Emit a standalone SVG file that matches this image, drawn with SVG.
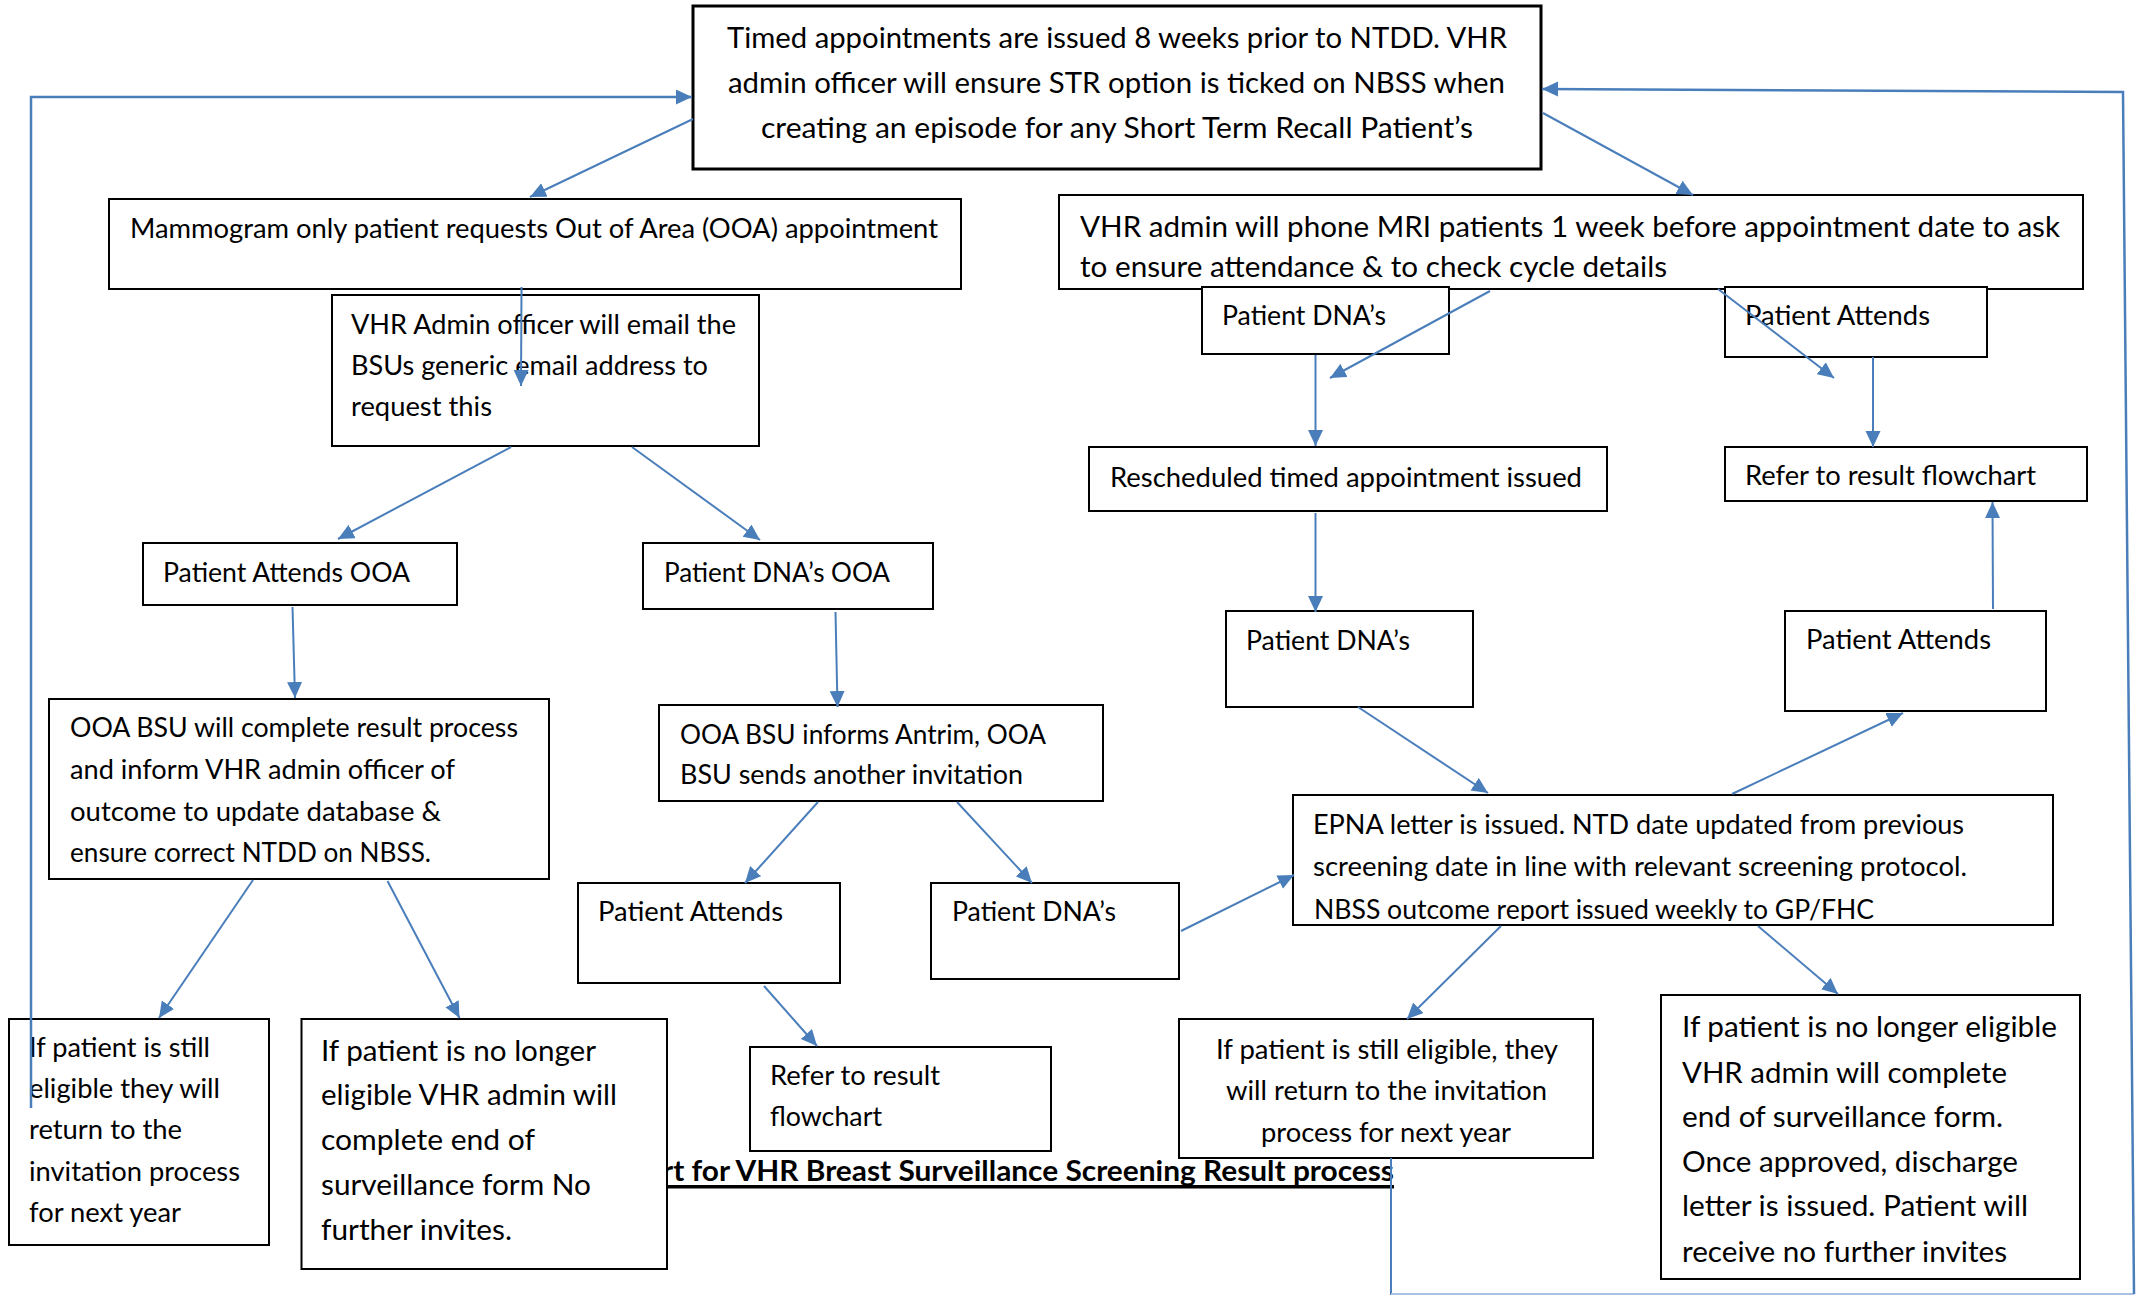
<svg xmlns="http://www.w3.org/2000/svg" width="2145" height="1295" viewBox="0 0 2145 1295">
<style>
.box{fill:#fff;stroke:#000;stroke-width:2}
.t{font-family:Lato,"Liberation Sans",sans-serif;font-size:27px;fill:#000}
.tl{font-family:Lato,"Liberation Sans",sans-serif;font-size:29.5px;fill:#000}
.title{font-family:Lato,"Liberation Sans",sans-serif;font-size:28px;font-weight:bold;fill:#000}
.c{fill:none;stroke:#4A7EBB;stroke-width:2.5}
.ca{fill:none;stroke:#4A7EBB;stroke-width:2;marker-end:url(#ah)}
</style>
<defs>
<marker id="ah" markerUnits="userSpaceOnUse" markerWidth="18" markerHeight="16" refX="16" refY="7.5" orient="auto">
<path d="M0,0 L16,7.5 L0,15 z" fill="#4A7EBB"/>
</marker>
<clipPath id="epnaClip"><rect x="1293" y="795" width="760" height="126"/></clipPath>
</defs>
<rect width="2145" height="1295" fill="#fff"/>

<g id="title">
<text class="title" x="1394" y="1181" text-anchor="end" textLength="732" lengthAdjust="spacingAndGlyphs">rt for VHR Breast Surveillance Screening Result process</text>
<rect x="662" y="1185" width="732" height="3.5" fill="#000"/>
</g>

<g id="n-top">
<rect class="box" style="stroke-width:3" x="693" y="6" width="848" height="163"/>
<text class="tl" x="727" y="48" textLength="780" lengthAdjust="spacingAndGlyphs">Timed appointments are issued 8 weeks prior to NTDD. VHR</text>
<text class="tl" x="728" y="93" textLength="777" lengthAdjust="spacingAndGlyphs">admin officer will ensure STR option is ticked on NBSS when</text>
<text class="tl" x="761" y="138" textLength="712" lengthAdjust="spacingAndGlyphs">creating an episode for any Short Term Recall Patient’s</text>
</g>

<g id="n-mammo">
<rect class="box" x="109" y="199" width="852" height="90"/>
<text class="t" x="130" y="238" textLength="808" lengthAdjust="spacingAndGlyphs">Mammogram only patient requests Out of Area (OOA) appointment</text>
</g>

<g id="n-email">
<rect class="box" x="332" y="295" width="427" height="151"/>
<text class="t" x="351" y="334" textLength="385" lengthAdjust="spacingAndGlyphs">VHR Admin officer will email the</text>
<text class="t" x="351" y="375" textLength="357" lengthAdjust="spacingAndGlyphs">BSUs generic email address to</text>
<text class="t" x="351" y="416" textLength="141" lengthAdjust="spacingAndGlyphs">request this</text>
</g>

<g id="n-mri">
<rect class="box" x="1059" y="195" width="1024" height="94"/>
<text class="tl" x="1080" y="237" textLength="980" lengthAdjust="spacingAndGlyphs">VHR admin will phone MRI patients 1 week before appointment date to ask</text>
<text class="tl" x="1080" y="277" textLength="587" lengthAdjust="spacingAndGlyphs">to ensure attendance &amp; to check cycle details</text>
</g>

<g id="n-dna1">
<rect class="box" x="1202" y="287" width="247" height="67"/>
<text class="t" x="1222" y="325" textLength="164" lengthAdjust="spacingAndGlyphs">Patient DNA’s</text>
</g>

<g id="n-att1">
<rect class="box" x="1725" y="287" width="262" height="70"/>
<text class="t" x="1745" y="325" textLength="185" lengthAdjust="spacingAndGlyphs">Patient Attends</text>
</g>

<g id="n-resched">
<rect class="box" x="1089" y="447" width="518" height="64"/>
<text class="t" x="1110" y="487" textLength="472" lengthAdjust="spacingAndGlyphs">Rescheduled timed appointment issued</text>
</g>

<g id="n-refer1">
<rect class="box" x="1725" y="447" width="362" height="54"/>
<text class="t" x="1745" y="485" textLength="291" lengthAdjust="spacingAndGlyphs">Refer to result flowchart</text>
</g>

<g id="n-dna2">
<rect class="box" x="1226" y="611" width="247" height="96"/>
<text class="t" x="1246" y="650" textLength="164" lengthAdjust="spacingAndGlyphs">Patient DNA’s</text>
</g>

<g id="n-att2">
<rect class="box" x="1785" y="611" width="261" height="100"/>
<text class="t" x="1806" y="649" textLength="185" lengthAdjust="spacingAndGlyphs">Patient Attends</text>
</g>

<g id="n-epna">
<rect class="box" x="1293" y="795" width="760" height="130"/>
<g clip-path="url(#epnaClip)">
<text class="t" x="1313" y="834" textLength="651" lengthAdjust="spacingAndGlyphs">EPNA letter is issued. NTD date updated from previous</text>
<text class="t" x="1313" y="876" textLength="654" lengthAdjust="spacingAndGlyphs">screening date in line with relevant screening protocol.</text>
<text class="t" x="1314" y="919" textLength="560" lengthAdjust="spacingAndGlyphs">NBSS outcome report issued weekly to GP/FHC</text>
</g>
</g>

<g id="n-attooa">
<rect class="box" x="143" y="543" width="314" height="62"/>
<text class="t" x="163" y="582" textLength="247" lengthAdjust="spacingAndGlyphs">Patient Attends OOA</text>
</g>

<g id="n-dnaooa">
<rect class="box" x="643" y="543" width="290" height="66"/>
<text class="t" x="664" y="582" textLength="226" lengthAdjust="spacingAndGlyphs">Patient DNA’s OOA</text>
</g>

<g id="n-ooacomplete">
<rect class="box" x="49" y="699" width="500" height="180"/>
<text class="t" x="70" y="737" textLength="448" lengthAdjust="spacingAndGlyphs">OOA BSU will complete result process</text>
<text class="t" x="70" y="779" textLength="385" lengthAdjust="spacingAndGlyphs">and inform VHR admin officer of</text>
<text class="t" x="70" y="821" textLength="371" lengthAdjust="spacingAndGlyphs">outcome to update database &amp;</text>
<text class="t" x="70" y="862" textLength="361" lengthAdjust="spacingAndGlyphs">ensure correct NTDD on NBSS.</text>
</g>

<g id="n-informs">
<rect class="box" x="659" y="705" width="444" height="96"/>
<text class="t" x="680" y="744" textLength="366" lengthAdjust="spacingAndGlyphs">OOA BSU informs Antrim, OOA</text>
<text class="t" x="680" y="784" textLength="343" lengthAdjust="spacingAndGlyphs">BSU sends another invitation</text>
</g>

<g id="n-att3">
<rect class="box" x="578" y="883" width="262" height="100"/>
<text class="t" x="598" y="921" textLength="185" lengthAdjust="spacingAndGlyphs">Patient Attends</text>
</g>

<g id="n-dna3">
<rect class="box" x="931" y="883" width="248" height="96"/>
<text class="t" x="952" y="921" textLength="164" lengthAdjust="spacingAndGlyphs">Patient DNA’s</text>
</g>

<g id="n-refer2">
<rect class="box" x="750" y="1047" width="301" height="104"/>
<text class="t" x="770" y="1085" textLength="170" lengthAdjust="spacingAndGlyphs">Refer to result</text>
<text class="t" x="770" y="1126" textLength="112" lengthAdjust="spacingAndGlyphs">flowchart</text>
</g>

<g id="n-still1">
<rect class="box" x="9" y="1019" width="260" height="226"/>
<text class="t" x="29" y="1057" textLength="181" lengthAdjust="spacingAndGlyphs">If patient is still</text>
<text class="t" x="29" y="1098" textLength="191" lengthAdjust="spacingAndGlyphs">eligible they will</text>
<text class="t" x="29" y="1139" textLength="153" lengthAdjust="spacingAndGlyphs">return to the</text>
<text class="t" x="29" y="1181" textLength="211" lengthAdjust="spacingAndGlyphs">invitation process</text>
<text class="t" x="29" y="1222" textLength="152" lengthAdjust="spacingAndGlyphs">for next year</text>
</g>

<g id="n-nolonger1">
<rect class="box" x="301.5" y="1019" width="365.5" height="250"/>
<text class="tl" x="321" y="1061" textLength="275" lengthAdjust="spacingAndGlyphs">If patient is no longer</text>
<text class="tl" x="321" y="1105" textLength="296" lengthAdjust="spacingAndGlyphs">eligible VHR admin will</text>
<text class="tl" x="321" y="1150" textLength="214" lengthAdjust="spacingAndGlyphs">complete end of</text>
<text class="tl" x="321" y="1195" textLength="270" lengthAdjust="spacingAndGlyphs">surveillance form No</text>
<text class="tl" x="321" y="1240" textLength="191" lengthAdjust="spacingAndGlyphs">further invites.</text>
</g>

<g id="n-still2">
<rect class="box" x="1179" y="1019" width="414" height="139"/>
<text class="t" x="1216" y="1059" textLength="342" lengthAdjust="spacingAndGlyphs">If patient is still eligible, they</text>
<text class="t" x="1226" y="1100" textLength="321" lengthAdjust="spacingAndGlyphs">will return to the invitation</text>
<text class="t" x="1261" y="1142" textLength="250" lengthAdjust="spacingAndGlyphs">process for next year</text>
</g>

<g id="n-nolonger2">
<rect class="box" x="1661" y="995" width="419" height="284"/>
<text class="tl" x="1682" y="1037" textLength="375" lengthAdjust="spacingAndGlyphs">If patient is no longer eligible</text>
<text class="tl" x="1682" y="1083" textLength="325" lengthAdjust="spacingAndGlyphs">VHR admin will complete</text>
<text class="tl" x="1682" y="1127" textLength="321" lengthAdjust="spacingAndGlyphs">end of surveillance form.</text>
<text class="tl" x="1682" y="1172" textLength="336" lengthAdjust="spacingAndGlyphs">Once approved, discharge</text>
<text class="tl" x="1682" y="1216" textLength="346" lengthAdjust="spacingAndGlyphs">letter is issued. Patient will</text>
<text class="tl" x="1682" y="1262" textLength="325" lengthAdjust="spacingAndGlyphs">receive no further invites</text>
</g>

<g id="connectors">
<line class="ca" x1="693" y1="119" x2="530" y2="197"/>
<line class="ca" x1="1543" y1="113" x2="1693" y2="195"/>
<polyline class="ca" style="stroke-width:2.5" points="31,1108 31,97 692,97"/>
<polyline class="c" style="stroke-width:2" points="1391,1158 1391,1295"/>
<line class="c" style="stroke:#A9C1E3;stroke-width:2" x1="1391" y1="1294" x2="2134" y2="1294"/>
<polyline class="ca" style="stroke-width:2.5" points="2134,1294 2123,92 1542,89"/>
<line class="ca" x1="521.5" y1="287" x2="521" y2="386"/>
<line class="ca" x1="511" y1="447" x2="338" y2="539"/>
<line class="ca" x1="632" y1="447" x2="760" y2="540"/>
<line class="ca" x1="292.5" y1="607" x2="295" y2="698"/>
<line class="ca" x1="835.5" y1="612" x2="837.5" y2="707"/>
<line class="ca" x1="253" y1="880" x2="159" y2="1018"/>
<line class="ca" x1="387.5" y1="881" x2="459.5" y2="1018"/>
<line class="ca" x1="818" y1="802" x2="745" y2="883"/>
<line class="ca" x1="957" y1="802" x2="1032" y2="883"/>
<line class="ca" x1="764" y1="986" x2="817" y2="1046"/>
<line class="ca" x1="1181" y1="931" x2="1294" y2="875"/>
<line class="ca" x1="1490" y1="291" x2="1330" y2="378"/>
<line class="ca" x1="1718" y1="289" x2="1834" y2="378"/>
<line class="ca" x1="1315.5" y1="355" x2="1315.5" y2="446"/>
<line class="ca" x1="1873" y1="357" x2="1873" y2="447"/>
<line class="ca" x1="1315.5" y1="513" x2="1315.5" y2="612"/>
<line class="ca" x1="1993" y1="609" x2="1992.5" y2="502"/>
<line class="ca" x1="1358" y1="707" x2="1488" y2="793"/>
<line class="ca" x1="1732" y1="794" x2="1903" y2="713"/>
<line class="ca" x1="1501" y1="926" x2="1407" y2="1019"/>
<line class="ca" x1="1758" y1="926" x2="1838" y2="994"/>
</g>
</svg>
